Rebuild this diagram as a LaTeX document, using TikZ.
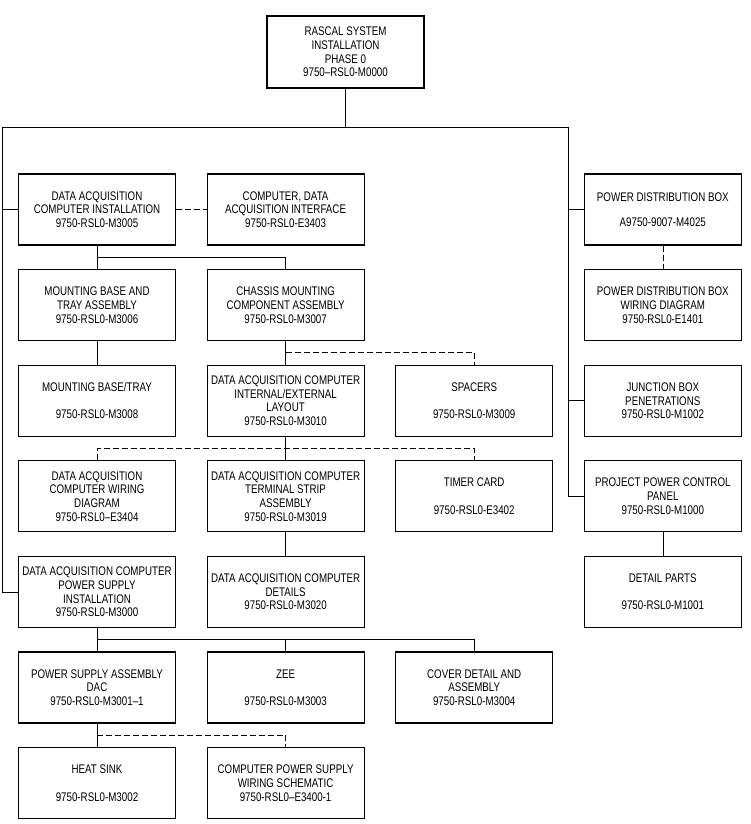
\documentclass[tikz,border=0pt]{standalone}
\usepackage{fontspec}
\setmainfont{Liberation Sans}[FakeStretch=0.78]
\usetikzlibrary{positioning}

\begin{document}
\begin{tikzpicture}[node distance=23.5pt and 30.5pt,
	box/.style={rectangle, draw, line width=1.1pt, minimum width=157pt, minimum height=71pt, inner sep=0pt, align=center, font=\fontsize{12.5}{13.7}\selectfont},
	link/.style={line width=0.6pt},
	dashline/.style={line width=0.6pt, dash pattern=on 6pt off 3pt}]
	\useasboundingbox (0,0) rectangle (750pt,-824pt);

	\node[box, minimum height=72pt] (top) at (345.5pt,-52pt) {RASCAL SYSTEM\\INSTALLATION\\PHASE 0\\9750--RSL0-M0000};
	\node[box] (a1) at (97pt,-209.5pt)          {DATA ACQUISITION\\COMPUTER INSTALLATION\\9750-RSL0-M3005};
	\node[box] (b1) [right=of a1]               {COMPUTER, DATA\\ACQUISITION INTERFACE\\9750-RSL0-E3403};
	\node[box] (a2) [below=of a1]               {MOUNTING BASE AND\\TRAY ASSEMBLY\\9750-RSL0-M3006};
	\node[box] (b2) [right=of a2]               {CHASSIS MOUNTING\\COMPONENT ASSEMBLY\\9750-RSL0-M3007};
	\node[box] (a3) [below=of a2]               {MOUNTING BASE/TRAY\\[13.7pt]9750-RSL0-M3008};
	\node[box] (b3) [right=of a3]               {DATA ACQUISITION COMPUTER\\INTERNAL/EXTERNAL\\LAYOUT\\9750-RSL0-M3010};
	\node[box] (c3) [right=of b3]               {SPACERS\\[13.7pt]9750-RSL0-M3009};
	\node[box] (d3) [right=of c3]               {JUNCTION BOX\\PENETRATIONS\\9750-RSL0-M1002};
	\node[box] (d2) [above=of d3]               {POWER DISTRIBUTION BOX\\WIRING DIAGRAM\\9750-RSL0-E1401};
	\node[box] (d1) [above=of d2]               {POWER DISTRIBUTION BOX\\[11pt]A9750-9007-M4025};
	\node[box] (a4) [below=of a3]               {DATA ACQUISITION\\COMPUTER WIRING\\DIAGRAM\\9750-RSL0--E3404};
	\node[box] (b4) [right=of a4]               {DATA ACQUISITION COMPUTER\\TERMINAL STRIP\\ASSEMBLY\\9750-RSL0-M3019};
	\node[box] (c4) [right=of b4]               {TIMER CARD\\[13.7pt]9750-RSL0-E3402};
	\node[box] (d4) [right=of c4]               {PROJECT POWER CONTROL\\PANEL\\9750-RSL0-M1000};
	\node[box] (a5) [below=of a4]               {DATA ACQUISITION COMPUTER\\POWER SUPPLY\\INSTALLATION\\9750-RSL0-M3000};
	\node[box] (b5) [right=of a5]               {DATA ACQUISITION COMPUTER\\DETAILS\\9750-RSL0-M3020};
	\node[box] (d5) [below=of d4]               {DETAIL PARTS\\[13.7pt]9750-RSL0-M1001};
	\node[box] (a6) [below=of a5]               {POWER SUPPLY ASSEMBLY\\DAC\\9750-RSL0-M3001--1};
	\node[box] (b6) [right=of a6]               {ZEE\\[13.7pt]9750-RSL0-M3003};
	\node[box] (c6) [right=of b6]               {COVER DETAIL AND\\ASSEMBLY\\9750-RSL0-M3004};
	\node[box] (a7) [below=of a6]               {HEAT SINK\\[13.7pt]9750-RSL0-M3002};
	\node[box] (b7) [right=of a7]               {COMPUTER POWER SUPPLY\\WIRING SCHEMATIC\\9750-RSL0--E3400-1};

	% main bus
	\draw[link] (top.south) -- ++(0,-39pt) coordinate (bus);
	\draw[link] (a1.west) -- ++(-15.5pt,0) coordinate (l1);
	\draw[link] (a5.west) -| (l1) |- (bus) -| ([xshift=-15pt]d1.west) |- (d4.west);
	\draw[link] (d1.west) -- ++(-15pt,0);
	\draw[link] (d3.west) -- ++(-15pt,0);

	\path 	(a1) edge[dashline]	(b1)
	(d1) edge[dashline]	(d2)
	(a1) edge[link]	(a2)
	(a2) edge[link]	(a3)
	(b2) edge[link]	(b3)
	(b3) edge[link]	(b4)
	(b4) edge[link]	(b5)
	(d4) edge[link]	(d5)
	(a5) edge[link]	(a6)
	(a6) edge[link]	(a7);

	\draw[link] (a1.south) ++(0,-11.5pt) -| (b2.north);
	\draw[dashline] (b2.south) ++(0,-11.5pt) -| (c3.north);
	\draw[dashline] (a4.north) |- ([yshift=-12pt]b3.south) -| (c4.north);
	\draw[link] (a5.south) ++(0,-11.5pt) coordinate (m5) -| (c6.north);
	\draw[link] (b6.north) -- (b6.north |- m5);
	\draw[dashline] (a6.south) ++(0,-11.5pt) -| (b7.north);

	\end{tikzpicture}
\end{document}
